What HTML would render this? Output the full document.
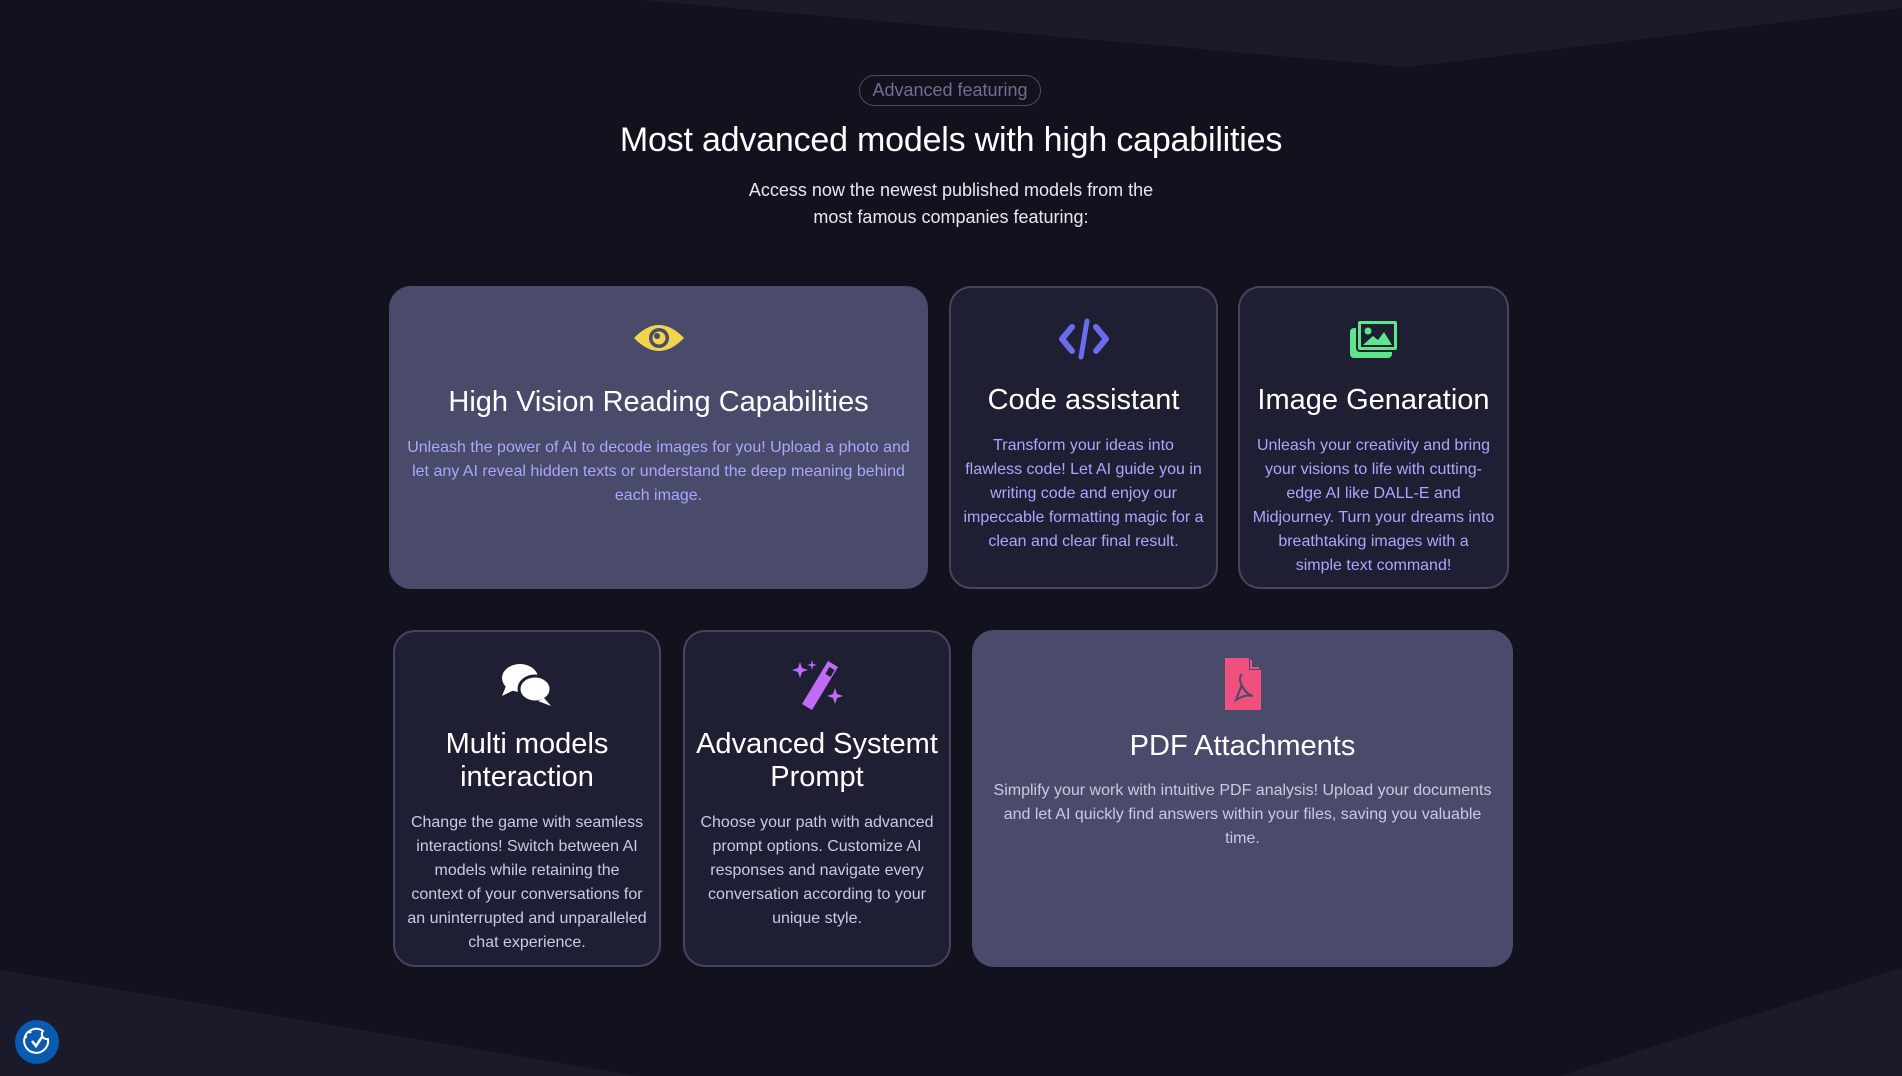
<!DOCTYPE html>
<html><head><meta charset="utf-8"><style>
*{margin:0;padding:0;box-sizing:border-box}
body{width:1902px;height:1076px;background:#12121f;position:relative;overflow:hidden;font-family:"Liberation Sans",sans-serif;color:#fff}
.bg{position:absolute;left:0;top:0}
.badge{position:absolute;left:859px;top:75px;width:182px;height:31px;border:1px solid #4a4a66;border-radius:16px;color:#6e6e8e;font-size:18px;line-height:29px;text-align:center}
h1{position:absolute;left:0;width:1902px;top:121px;text-align:center;font-size:34px;font-weight:normal;letter-spacing:-0.2px}
.sub{position:absolute;left:0;width:1902px;top:177px;text-align:center;font-size:18px;line-height:27px;color:#e8e8f0}
.card{position:absolute;border-radius:22px;text-align:center}
.hi{background:#4a4a6a}
.dk{background:#1f1f33;border:2px solid #45455f}
.card svg{position:absolute;left:50%;transform:translateX(-50%)}
.t{position:absolute;left:0;right:0;font-size:29px;line-height:33px}
.d{position:absolute;left:12px;right:12px;font-size:16px;line-height:24px}
.p1{color:#a8a8ff}.p2{color:#cacae4}
</style></head><body>
<svg class="bg" width="1902" height="1076">
<polygon points="640,0 1902,0 1902,8 1407,67" fill="#1a1a2b"/>
<polygon points="0,970 640,1076 0,1076" fill="#1a1a2b"/>
<polygon points="1902,968 1560,1076 1902,1076" fill="#1a1a2b"/>
</svg>
<div class="badge">Advanced featuring</div>
<h1>Most advanced models with high capabilities</h1>
<div class="sub">Access now the newest published models from the<br>most famous companies featuring:</div>

<div class="card hi" style="left:389px;top:286px;width:539px;height:303px">
<svg style="top:34px" width="54" height="36" viewBox="0 0 54 36"><path d="M2 18 Q27 -8 52 18 Q27 44 2 18Z" fill="#f2d34c"/><circle cx="27" cy="18" r="10" fill="#4a4a6a"/><circle cx="27" cy="18" r="6.5" fill="#f2d34c"/><circle cx="25" cy="16" r="3" fill="#4a4a6a"/></svg>
<div class="t" style="top:100px">High Vision Reading Capabilities</div>
<div class="d p1" style="top:150px;left:14px;right:14px">Unleash the power of AI to decode images for you! Upload a photo and let any AI reveal hidden texts or understand the deep meaning behind each image.</div>
</div>

<div class="card dk" style="left:949px;top:286px;width:269px;height:303px">
<svg style="top:30px" width="52" height="42" viewBox="0 0 52 42"><path d="M14 9 L4 21 L14 33" stroke="#6b6bf0" stroke-width="6" fill="none" stroke-linecap="round" stroke-linejoin="round"/><path d="M38 9 L48 21 L38 33" stroke="#6b6bf0" stroke-width="6" fill="none" stroke-linecap="round" stroke-linejoin="round"/><path d="M29 3 L23 39" stroke="#6b6bf0" stroke-width="5" stroke-linecap="round"/></svg>
<div class="t" style="top:96px">Code assistant</div>
<div class="d p1" style="top:146px;left:6px;right:6px">Transform your ideas into<br>flawless code! Let AI guide you in writing code and enjoy our impeccable formatting magic for a clean and clear final result.</div>
</div>

<div class="card dk" style="left:1238px;top:286px;width:271px;height:303px">
<svg style="top:30px" width="52" height="42" viewBox="0 0 52 42"><rect x="2" y="10" width="42" height="30" rx="4" fill="#5ee68a"/><rect x="9" y="2" width="41" height="31" rx="3" fill="#5ee68a" stroke="#1f1f33" stroke-width="2"/><rect x="13" y="6" width="33" height="23" fill="#1f1f33"/><circle cx="20" cy="13" r="3.5" fill="#5ee68a"/><path d="M15 27 L25 18 L30 22 L36 14 L44 27Z" fill="#5ee68a"/></svg>
<div class="t" style="top:96px">Image Genaration</div>
<div class="d p1" style="top:146px;left:8px;right:8px">Unleash your creativity and bring your visions to life with cutting-edge AI like DALL-E and Midjourney. Turn your dreams into breathtaking images with a<br>simple text command!</div>
</div>

<div class="card dk" style="left:393px;top:630px;width:268px;height:337px">
<svg style="top:30px" width="54" height="46" viewBox="0 0 54 46"><ellipse cx="20" cy="16" rx="18" ry="14" fill="#fff"/><path d="M6 24 L2 34 L14 28Z" fill="#fff"/><ellipse cx="35" cy="27" rx="16" ry="13" fill="#fff" stroke="#1f1f33" stroke-width="3"/><path d="M44 36 L51 44 L38 39Z" fill="#fff"/></svg>
<div class="t" style="top:96px">Multi models<br>interaction</div>
<div class="d p2" style="top:179px;left:12px;right:12px">Change the game with seamless interactions! Switch between AI models while retaining the context of your conversations for an uninterrupted and unparalleled chat experience.</div>
</div>

<div class="card dk" style="left:683px;top:630px;width:268px;height:337px">
<svg style="top:26px" width="54" height="54" viewBox="0 0 54 54"><path d="M38 3 L48 9 L22 52 L12 46Z" fill="#c06cf5"/><rect x="37" y="10" width="6" height="8" fill="#1f1f33" transform="rotate(30 40 14)"/><path d="M10 4 L12 10 L18 12 L12 14 L10 20 L8 14 L2 12 L8 10Z" fill="#c06cf5"/><path d="M22 2 L23 6 L27 7 L23 8 L22 12 L21 8 L17 7 L21 6Z" fill="#c06cf5"/><path d="M45 30 L47 36 L53 38 L47 40 L45 46 L43 40 L37 38 L43 36Z" fill="#c06cf5"/></svg>
<div class="t" style="top:96px">Advanced Systemt<br>Prompt</div>
<div class="d p2" style="top:179px;left:8px;right:8px">Choose your path with advanced prompt options. Customize AI responses and navigate every conversation according to your unique style.</div>
</div>

<div class="card hi" style="left:972px;top:630px;width:541px;height:337px">
<svg style="top:26px" width="40" height="56" viewBox="0 0 40 56"><path d="M2 2 L26 2 L38 14 L38 54 L2 54Z" fill="#f0507e"/><path d="M26 2 L26 14 L38 14" fill="#4a4a6a"/><path d="M28 4 L28 12 L36 12" fill="none" stroke="#f0507e" stroke-width="2"/><path d="M19 18 Q15 22 19 30 Q23 38 30 40 Q22 38 13 44 Q17 34 19 28" fill="none" stroke="#4a4a6a" stroke-width="2"/></svg>
<div class="t" style="top:100px">PDF Attachments</div>
<div class="d p2" style="top:149px;left:14px;right:14px">Simplify your work with intuitive PDF analysis! Upload your documents and let AI quickly find answers within your files, saving you valuable time.</div>
</div>

<svg style="position:absolute;left:15px;top:1020px" width="44" height="44" viewBox="0 0 44 44"><circle cx="22" cy="22" r="22" fill="#0a5bb0"/><path d="M28 11 A12 12 0 1 0 33 19 A5 5 0 0 1 28 11Z" fill="none" stroke="#fff" stroke-width="2"/><path d="M17 21 L21 26 L27 17" fill="none" stroke="#fff" stroke-width="2.5"/><circle cx="15" cy="12" r="1.5" fill="#fff"/><circle cx="11" cy="17" r="1.2" fill="#fff"/></svg>
</body></html>
